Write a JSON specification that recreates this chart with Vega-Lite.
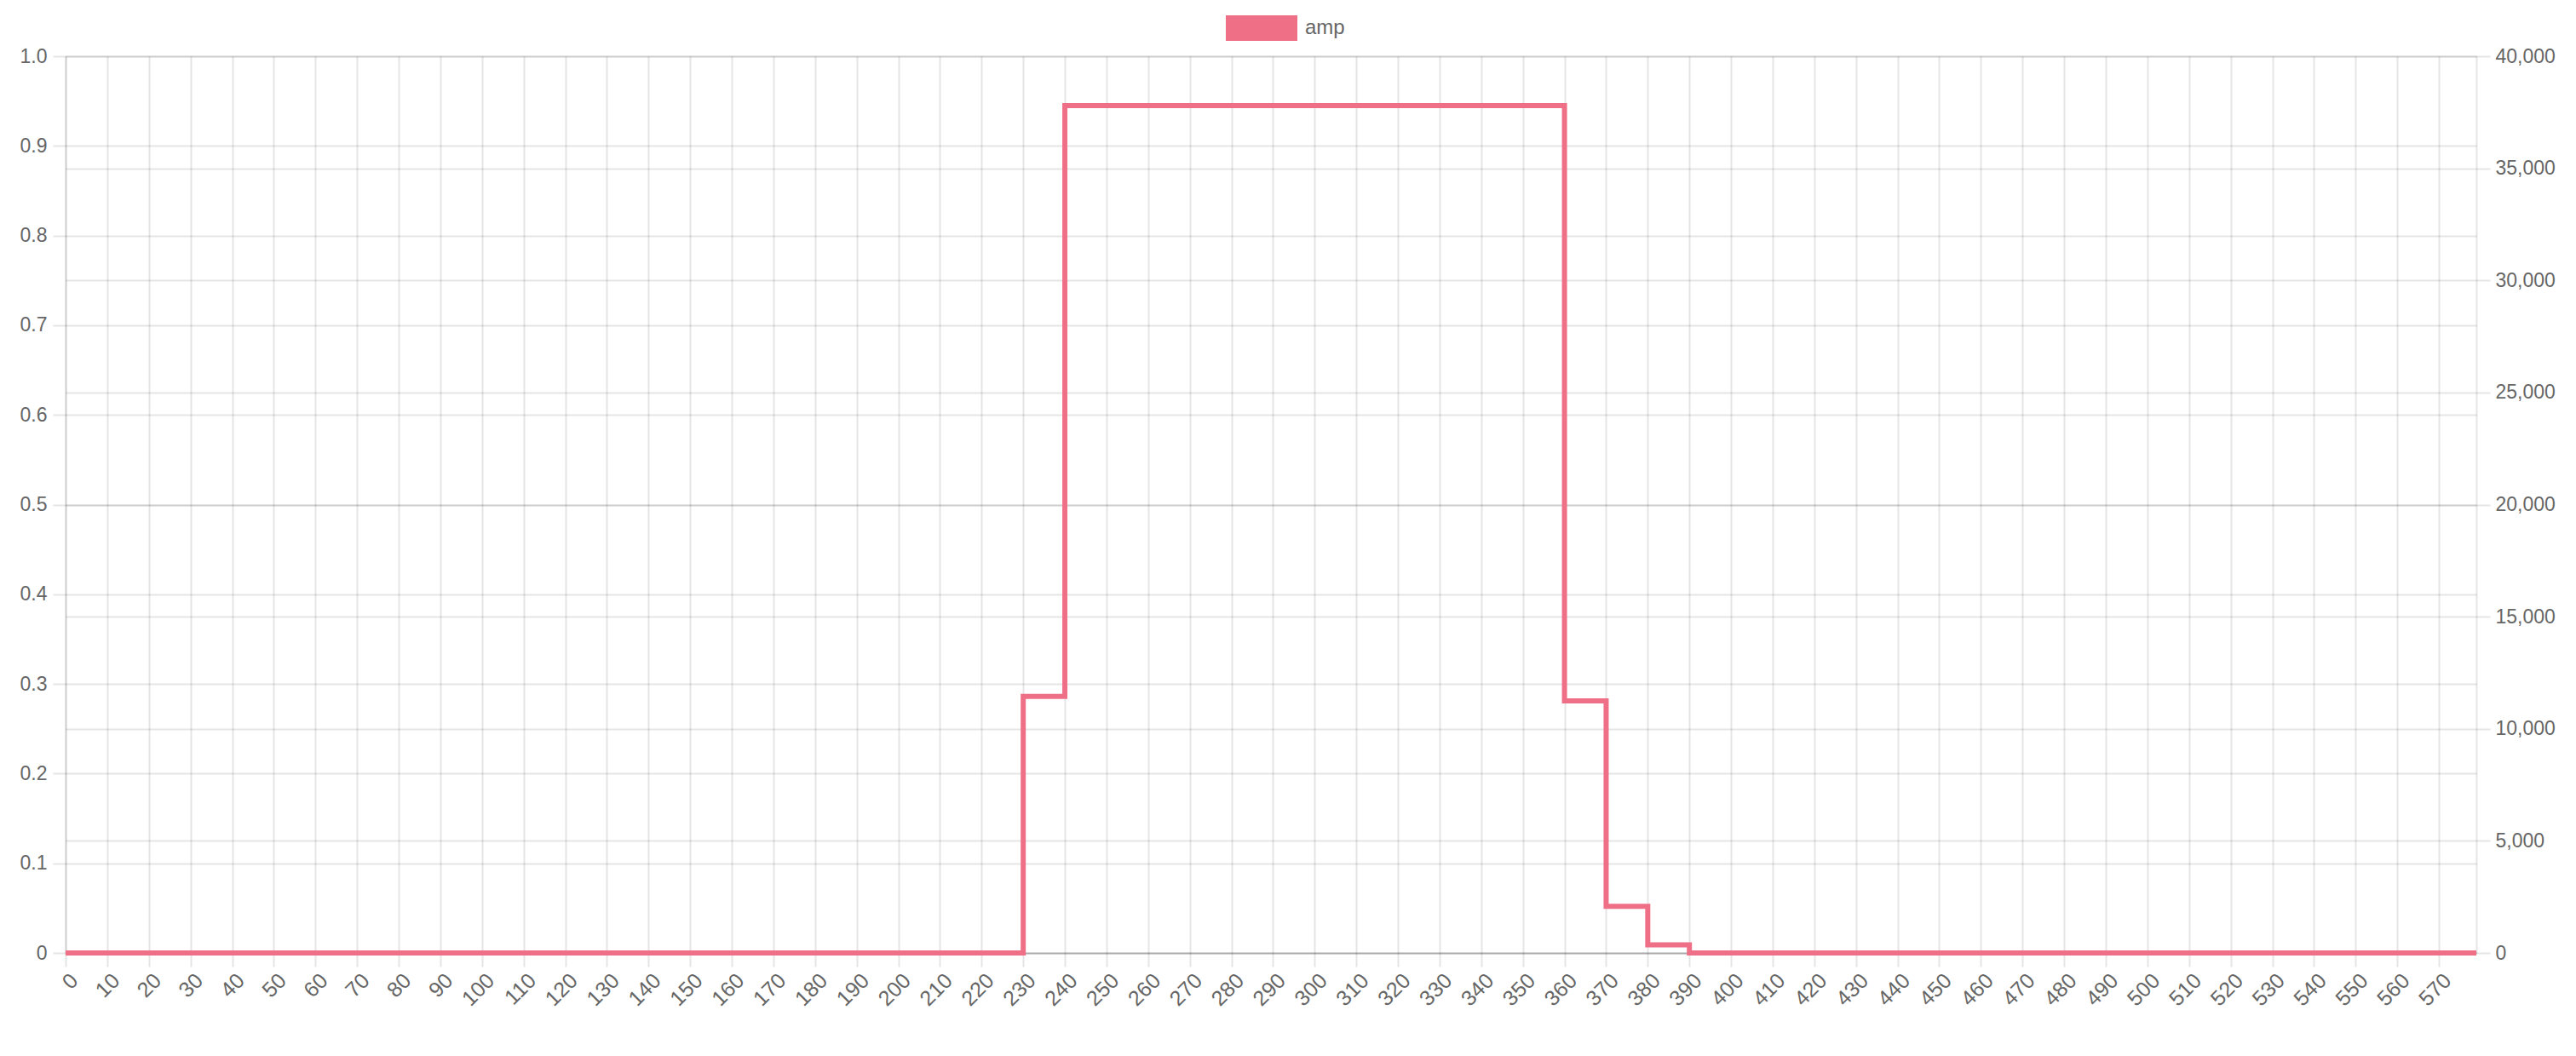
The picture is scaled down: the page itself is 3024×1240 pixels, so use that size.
{
"$schema": "https://vega.github.io/schema/vega-lite/v6.json",
"width": 2830, "height": 1053,
"autosize": {"type": "none"},
"padding": {"left": 77, "top": 66, "right": 117, "bottom": 121},
"background": "white",
"config": {"view": {"stroke": null}, "font": "Liberation Sans"},
"data": {"values": [
{"t":0,"amp":0},{"t":1,"amp":0},{"t":2,"amp":0},{"t":3,"amp":0},{"t":4,"amp":0},{"t":5,"amp":0},{"t":6,"amp":0},{"t":7,"amp":0},{"t":8,"amp":0},{"t":9,"amp":0},
{"t":10,"amp":0},{"t":11,"amp":0},{"t":12,"amp":0},{"t":13,"amp":0},{"t":14,"amp":0},{"t":15,"amp":0},{"t":16,"amp":0},{"t":17,"amp":0},{"t":18,"amp":0},{"t":19,"amp":0},
{"t":20,"amp":0},{"t":21,"amp":0},{"t":22,"amp":0},{"t":23,"amp":0},{"t":24,"amp":0},{"t":25,"amp":0},{"t":26,"amp":0},{"t":27,"amp":0},{"t":28,"amp":0},{"t":29,"amp":0},
{"t":30,"amp":0},{"t":31,"amp":0},{"t":32,"amp":0},{"t":33,"amp":0},{"t":34,"amp":0},{"t":35,"amp":0},{"t":36,"amp":0},{"t":37,"amp":0},{"t":38,"amp":0},{"t":39,"amp":0},
{"t":40,"amp":0},{"t":41,"amp":0},{"t":42,"amp":0},{"t":43,"amp":0},{"t":44,"amp":0},{"t":45,"amp":0},{"t":46,"amp":0},{"t":47,"amp":0},{"t":48,"amp":0},{"t":49,"amp":0},
{"t":50,"amp":0},{"t":51,"amp":0},{"t":52,"amp":0},{"t":53,"amp":0},{"t":54,"amp":0},{"t":55,"amp":0},{"t":56,"amp":0},{"t":57,"amp":0},{"t":58,"amp":0},{"t":59,"amp":0},
{"t":60,"amp":0},{"t":61,"amp":0},{"t":62,"amp":0},{"t":63,"amp":0},{"t":64,"amp":0},{"t":65,"amp":0},{"t":66,"amp":0},{"t":67,"amp":0},{"t":68,"amp":0},{"t":69,"amp":0},
{"t":70,"amp":0},{"t":71,"amp":0},{"t":72,"amp":0},{"t":73,"amp":0},{"t":74,"amp":0},{"t":75,"amp":0},{"t":76,"amp":0},{"t":77,"amp":0},{"t":78,"amp":0},{"t":79,"amp":0},
{"t":80,"amp":0},{"t":81,"amp":0},{"t":82,"amp":0},{"t":83,"amp":0},{"t":84,"amp":0},{"t":85,"amp":0},{"t":86,"amp":0},{"t":87,"amp":0},{"t":88,"amp":0},{"t":89,"amp":0},
{"t":90,"amp":0},{"t":91,"amp":0},{"t":92,"amp":0},{"t":93,"amp":0},{"t":94,"amp":0},{"t":95,"amp":0},{"t":96,"amp":0},{"t":97,"amp":0},{"t":98,"amp":0},{"t":99,"amp":0},
{"t":100,"amp":0},{"t":101,"amp":0},{"t":102,"amp":0},{"t":103,"amp":0},{"t":104,"amp":0},{"t":105,"amp":0},{"t":106,"amp":0},{"t":107,"amp":0},{"t":108,"amp":0},{"t":109,"amp":0},
{"t":110,"amp":0},{"t":111,"amp":0},{"t":112,"amp":0},{"t":113,"amp":0},{"t":114,"amp":0},{"t":115,"amp":0},{"t":116,"amp":0},{"t":117,"amp":0},{"t":118,"amp":0},{"t":119,"amp":0},
{"t":120,"amp":0},{"t":121,"amp":0},{"t":122,"amp":0},{"t":123,"amp":0},{"t":124,"amp":0},{"t":125,"amp":0},{"t":126,"amp":0},{"t":127,"amp":0},{"t":128,"amp":0},{"t":129,"amp":0},
{"t":130,"amp":0},{"t":131,"amp":0},{"t":132,"amp":0},{"t":133,"amp":0},{"t":134,"amp":0},{"t":135,"amp":0},{"t":136,"amp":0},{"t":137,"amp":0},{"t":138,"amp":0},{"t":139,"amp":0},
{"t":140,"amp":0},{"t":141,"amp":0},{"t":142,"amp":0},{"t":143,"amp":0},{"t":144,"amp":0},{"t":145,"amp":0},{"t":146,"amp":0},{"t":147,"amp":0},{"t":148,"amp":0},{"t":149,"amp":0},
{"t":150,"amp":0},{"t":151,"amp":0},{"t":152,"amp":0},{"t":153,"amp":0},{"t":154,"amp":0},{"t":155,"amp":0},{"t":156,"amp":0},{"t":157,"amp":0},{"t":158,"amp":0},{"t":159,"amp":0},
{"t":160,"amp":0},{"t":161,"amp":0},{"t":162,"amp":0},{"t":163,"amp":0},{"t":164,"amp":0},{"t":165,"amp":0},{"t":166,"amp":0},{"t":167,"amp":0},{"t":168,"amp":0},{"t":169,"amp":0},
{"t":170,"amp":0},{"t":171,"amp":0},{"t":172,"amp":0},{"t":173,"amp":0},{"t":174,"amp":0},{"t":175,"amp":0},{"t":176,"amp":0},{"t":177,"amp":0},{"t":178,"amp":0},{"t":179,"amp":0},
{"t":180,"amp":0},{"t":181,"amp":0},{"t":182,"amp":0},{"t":183,"amp":0},{"t":184,"amp":0},{"t":185,"amp":0},{"t":186,"amp":0},{"t":187,"amp":0},{"t":188,"amp":0},{"t":189,"amp":0},
{"t":190,"amp":0},{"t":191,"amp":0},{"t":192,"amp":0},{"t":193,"amp":0},{"t":194,"amp":0},{"t":195,"amp":0},{"t":196,"amp":0},{"t":197,"amp":0},{"t":198,"amp":0},{"t":199,"amp":0},
{"t":200,"amp":0},{"t":201,"amp":0},{"t":202,"amp":0},{"t":203,"amp":0},{"t":204,"amp":0},{"t":205,"amp":0},{"t":206,"amp":0},{"t":207,"amp":0},{"t":208,"amp":0},{"t":209,"amp":0},
{"t":210,"amp":0},{"t":211,"amp":0},{"t":212,"amp":0},{"t":213,"amp":0},{"t":214,"amp":0},{"t":215,"amp":0},{"t":216,"amp":0},{"t":217,"amp":0},{"t":218,"amp":0},{"t":219,"amp":0},
{"t":220,"amp":0},{"t":221,"amp":0},{"t":222,"amp":0},{"t":223,"amp":0},{"t":224,"amp":0},{"t":225,"amp":0},{"t":226,"amp":0},{"t":227,"amp":0},{"t":228,"amp":0},{"t":229,"amp":0},
{"t":230,"amp":0.286},{"t":231,"amp":0.286},{"t":232,"amp":0.286},{"t":233,"amp":0.286},{"t":234,"amp":0.286},{"t":235,"amp":0.286},{"t":236,"amp":0.286},{"t":237,"amp":0.286},{"t":238,"amp":0.286},{"t":239,"amp":0.286},
{"t":240,"amp":0.945},{"t":241,"amp":0.945},{"t":242,"amp":0.945},{"t":243,"amp":0.945},{"t":244,"amp":0.945},{"t":245,"amp":0.945},{"t":246,"amp":0.945},{"t":247,"amp":0.945},{"t":248,"amp":0.945},{"t":249,"amp":0.945},
{"t":250,"amp":0.945},{"t":251,"amp":0.945},{"t":252,"amp":0.945},{"t":253,"amp":0.945},{"t":254,"amp":0.945},{"t":255,"amp":0.945},{"t":256,"amp":0.945},{"t":257,"amp":0.945},{"t":258,"amp":0.945},{"t":259,"amp":0.945},
{"t":260,"amp":0.945},{"t":261,"amp":0.945},{"t":262,"amp":0.945},{"t":263,"amp":0.945},{"t":264,"amp":0.945},{"t":265,"amp":0.945},{"t":266,"amp":0.945},{"t":267,"amp":0.945},{"t":268,"amp":0.945},{"t":269,"amp":0.945},
{"t":270,"amp":0.945},{"t":271,"amp":0.945},{"t":272,"amp":0.945},{"t":273,"amp":0.945},{"t":274,"amp":0.945},{"t":275,"amp":0.945},{"t":276,"amp":0.945},{"t":277,"amp":0.945},{"t":278,"amp":0.945},{"t":279,"amp":0.945},
{"t":280,"amp":0.945},{"t":281,"amp":0.945},{"t":282,"amp":0.945},{"t":283,"amp":0.945},{"t":284,"amp":0.945},{"t":285,"amp":0.945},{"t":286,"amp":0.945},{"t":287,"amp":0.945},{"t":288,"amp":0.945},{"t":289,"amp":0.945},
{"t":290,"amp":0.945},{"t":291,"amp":0.945},{"t":292,"amp":0.945},{"t":293,"amp":0.945},{"t":294,"amp":0.945},{"t":295,"amp":0.945},{"t":296,"amp":0.945},{"t":297,"amp":0.945},{"t":298,"amp":0.945},{"t":299,"amp":0.945},
{"t":300,"amp":0.945},{"t":301,"amp":0.945},{"t":302,"amp":0.945},{"t":303,"amp":0.945},{"t":304,"amp":0.945},{"t":305,"amp":0.945},{"t":306,"amp":0.945},{"t":307,"amp":0.945},{"t":308,"amp":0.945},{"t":309,"amp":0.945},
{"t":310,"amp":0.945},{"t":311,"amp":0.945},{"t":312,"amp":0.945},{"t":313,"amp":0.945},{"t":314,"amp":0.945},{"t":315,"amp":0.945},{"t":316,"amp":0.945},{"t":317,"amp":0.945},{"t":318,"amp":0.945},{"t":319,"amp":0.945},
{"t":320,"amp":0.945},{"t":321,"amp":0.945},{"t":322,"amp":0.945},{"t":323,"amp":0.945},{"t":324,"amp":0.945},{"t":325,"amp":0.945},{"t":326,"amp":0.945},{"t":327,"amp":0.945},{"t":328,"amp":0.945},{"t":329,"amp":0.945},
{"t":330,"amp":0.945},{"t":331,"amp":0.945},{"t":332,"amp":0.945},{"t":333,"amp":0.945},{"t":334,"amp":0.945},{"t":335,"amp":0.945},{"t":336,"amp":0.945},{"t":337,"amp":0.945},{"t":338,"amp":0.945},{"t":339,"amp":0.945},
{"t":340,"amp":0.945},{"t":341,"amp":0.945},{"t":342,"amp":0.945},{"t":343,"amp":0.945},{"t":344,"amp":0.945},{"t":345,"amp":0.945},{"t":346,"amp":0.945},{"t":347,"amp":0.945},{"t":348,"amp":0.945},{"t":349,"amp":0.945},
{"t":350,"amp":0.945},{"t":351,"amp":0.945},{"t":352,"amp":0.945},{"t":353,"amp":0.945},{"t":354,"amp":0.945},{"t":355,"amp":0.945},{"t":356,"amp":0.945},{"t":357,"amp":0.945},{"t":358,"amp":0.945},{"t":359,"amp":0.945},
{"t":360,"amp":0.281},{"t":361,"amp":0.281},{"t":362,"amp":0.281},{"t":363,"amp":0.281},{"t":364,"amp":0.281},{"t":365,"amp":0.281},{"t":366,"amp":0.281},{"t":367,"amp":0.281},{"t":368,"amp":0.281},{"t":369,"amp":0.281},
{"t":370,"amp":0.052},{"t":371,"amp":0.052},{"t":372,"amp":0.052},{"t":373,"amp":0.052},{"t":374,"amp":0.052},{"t":375,"amp":0.052},{"t":376,"amp":0.052},{"t":377,"amp":0.052},{"t":378,"amp":0.052},{"t":379,"amp":0.052},
{"t":380,"amp":0.009},{"t":381,"amp":0.009},{"t":382,"amp":0.009},{"t":383,"amp":0.009},{"t":384,"amp":0.009},{"t":385,"amp":0.009},{"t":386,"amp":0.009},{"t":387,"amp":0.009},{"t":388,"amp":0.009},{"t":389,"amp":0.009},
{"t":390,"amp":0},{"t":391,"amp":0},{"t":392,"amp":0},{"t":393,"amp":0},{"t":394,"amp":0},{"t":395,"amp":0},{"t":396,"amp":0},{"t":397,"amp":0},{"t":398,"amp":0},{"t":399,"amp":0},
{"t":400,"amp":0},{"t":401,"amp":0},{"t":402,"amp":0},{"t":403,"amp":0},{"t":404,"amp":0},{"t":405,"amp":0},{"t":406,"amp":0},{"t":407,"amp":0},{"t":408,"amp":0},{"t":409,"amp":0},
{"t":410,"amp":0},{"t":411,"amp":0},{"t":412,"amp":0},{"t":413,"amp":0},{"t":414,"amp":0},{"t":415,"amp":0},{"t":416,"amp":0},{"t":417,"amp":0},{"t":418,"amp":0},{"t":419,"amp":0},
{"t":420,"amp":0},{"t":421,"amp":0},{"t":422,"amp":0},{"t":423,"amp":0},{"t":424,"amp":0},{"t":425,"amp":0},{"t":426,"amp":0},{"t":427,"amp":0},{"t":428,"amp":0},{"t":429,"amp":0},
{"t":430,"amp":0},{"t":431,"amp":0},{"t":432,"amp":0},{"t":433,"amp":0},{"t":434,"amp":0},{"t":435,"amp":0},{"t":436,"amp":0},{"t":437,"amp":0},{"t":438,"amp":0},{"t":439,"amp":0},
{"t":440,"amp":0},{"t":441,"amp":0},{"t":442,"amp":0},{"t":443,"amp":0},{"t":444,"amp":0},{"t":445,"amp":0},{"t":446,"amp":0},{"t":447,"amp":0},{"t":448,"amp":0},{"t":449,"amp":0},
{"t":450,"amp":0},{"t":451,"amp":0},{"t":452,"amp":0},{"t":453,"amp":0},{"t":454,"amp":0},{"t":455,"amp":0},{"t":456,"amp":0},{"t":457,"amp":0},{"t":458,"amp":0},{"t":459,"amp":0},
{"t":460,"amp":0},{"t":461,"amp":0},{"t":462,"amp":0},{"t":463,"amp":0},{"t":464,"amp":0},{"t":465,"amp":0},{"t":466,"amp":0},{"t":467,"amp":0},{"t":468,"amp":0},{"t":469,"amp":0},
{"t":470,"amp":0},{"t":471,"amp":0},{"t":472,"amp":0},{"t":473,"amp":0},{"t":474,"amp":0},{"t":475,"amp":0},{"t":476,"amp":0},{"t":477,"amp":0},{"t":478,"amp":0},{"t":479,"amp":0},
{"t":480,"amp":0},{"t":481,"amp":0},{"t":482,"amp":0},{"t":483,"amp":0},{"t":484,"amp":0},{"t":485,"amp":0},{"t":486,"amp":0},{"t":487,"amp":0},{"t":488,"amp":0},{"t":489,"amp":0},
{"t":490,"amp":0},{"t":491,"amp":0},{"t":492,"amp":0},{"t":493,"amp":0},{"t":494,"amp":0},{"t":495,"amp":0},{"t":496,"amp":0},{"t":497,"amp":0},{"t":498,"amp":0},{"t":499,"amp":0},
{"t":500,"amp":0},{"t":501,"amp":0},{"t":502,"amp":0},{"t":503,"amp":0},{"t":504,"amp":0},{"t":505,"amp":0},{"t":506,"amp":0},{"t":507,"amp":0},{"t":508,"amp":0},{"t":509,"amp":0},
{"t":510,"amp":0},{"t":511,"amp":0},{"t":512,"amp":0},{"t":513,"amp":0},{"t":514,"amp":0},{"t":515,"amp":0},{"t":516,"amp":0},{"t":517,"amp":0},{"t":518,"amp":0},{"t":519,"amp":0},
{"t":520,"amp":0},{"t":521,"amp":0},{"t":522,"amp":0},{"t":523,"amp":0},{"t":524,"amp":0},{"t":525,"amp":0},{"t":526,"amp":0},{"t":527,"amp":0},{"t":528,"amp":0},{"t":529,"amp":0},
{"t":530,"amp":0},{"t":531,"amp":0},{"t":532,"amp":0},{"t":533,"amp":0},{"t":534,"amp":0},{"t":535,"amp":0},{"t":536,"amp":0},{"t":537,"amp":0},{"t":538,"amp":0},{"t":539,"amp":0},
{"t":540,"amp":0},{"t":541,"amp":0},{"t":542,"amp":0},{"t":543,"amp":0},{"t":544,"amp":0},{"t":545,"amp":0},{"t":546,"amp":0},{"t":547,"amp":0},{"t":548,"amp":0},{"t":549,"amp":0},
{"t":550,"amp":0},{"t":551,"amp":0},{"t":552,"amp":0},{"t":553,"amp":0},{"t":554,"amp":0},{"t":555,"amp":0},{"t":556,"amp":0},{"t":557,"amp":0},{"t":558,"amp":0},{"t":559,"amp":0},
{"t":560,"amp":0},{"t":561,"amp":0},{"t":562,"amp":0},{"t":563,"amp":0},{"t":564,"amp":0},{"t":565,"amp":0},{"t":566,"amp":0},{"t":567,"amp":0},{"t":568,"amp":0},{"t":569,"amp":0},
{"t":570,"amp":0},{"t":571,"amp":0},{"t":572,"amp":0},{"t":573,"amp":0},{"t":574,"amp":0},{"t":575,"amp":0},{"t":576,"amp":0},{"t":577,"amp":0},{"t":578,"amp":0},{"t":579,"amp":0}
]},
"layer": [
{
"mark": {"type": "line", "interpolate": "step-after", "strokeWidth": 6, "strokeJoin": "miter", "clip": false},
"encoding": {
"x": {"field": "t", "type": "quantitative", "scale": {"domain": [0, 579], "nice": false, "zero": false},
 "axis": {"title": null, "values": [0,10,20,30,40,50,60,70,80,90,100,110,120,130,140,150,160,170,180,190,200,210,220,230,240,250,260,270,280,290,300,310,320,330,340,350,360,370,380,390,400,410,420,430,440,450,460,470,480,490,500,510,520,530,540,550,560,570],
  "grid": true, "gridColor": "rgba(0,0,0,0.1)", "gridWidth": 2, "domain": false,
  "ticks": true, "tickColor": "rgba(0,0,0,0.1)", "tickWidth": 2, "tickSize": 16,
  "labelAngle": -45, "labelAlign": "right", "labelBaseline": "middle", "labelPadding": 12, "labelOffset": 10,
  "labelFont": "Liberation Sans", "labelFontSize": 25, "labelColor": "#666", "labelOverlap": false, "labelFlush": false, "labelBound": false}},
"y": {"field": "amp", "type": "quantitative", "scale": {"domain": [0, 1], "nice": false},
 "axis": {"title": null, "orient": "left", "values": [0,0.1,0.2,0.3,0.4,0.5,0.6,0.7,0.8,0.9,1],
  "grid": true, "gridColor": {"condition": {"test": "datum.value === 0", "value": "rgba(0,0,0,0.25)"}, "value": "rgba(0,0,0,0.1)"}, "gridWidth": 2,
  "domain": true, "domainColor": "rgba(0,0,0,0.1)", "domainWidth": 2,
  "ticks": true, "tickColor": "rgba(0,0,0,0.1)", "tickWidth": 2, "tickSize": 15,
  "labelPadding": 7, "labelFont": "Liberation Sans", "labelFontSize": 23, "labelColor": "#666",
  "labelExpr": "datum.value === 0 ? '0' : format(datum.value, '.1f')", "labelFlush": false, "labelOverlap": false}},
"color": {"datum": "amp", "type": "nominal", "scale": {"range": ["#ef6f87"]},
 "legend": {"orient": "none", "legendX": 1362, "legendY": -75, "title": null,
  "symbolType": "M-1,-0.36H1V0.36H-1Z", "symbolSize": 7056, "symbolStrokeWidth": 0,
  "labelFont": "Liberation Sans", "labelFontSize": 24, "labelColor": "#666", "labelOffset": 9,
  "encode": {"symbols": {"update": {"fill": {"value": "#ef6f87"}, "stroke": {"value": "transparent"}, "opacity": {"value": 1}}}}}}
}
},
{
"mark": {"type": "rule", "opacity": 0},
"encoding": {
"y": {"datum": 0, "type": "quantitative", "scale": {"domain": [0, 40000], "nice": false},
 "axis": {"title": null, "orient": "right", "values": [0,5000,10000,15000,20000,25000,30000,35000,40000],
  "labelExpr": "format(datum.value, ',')",
  "grid": true, "gridColor": "rgba(0,0,0,0.1)", "gridWidth": 2,
  "domain": true, "domainColor": "rgba(0,0,0,0.1)", "domainWidth": 2,
  "ticks": true, "tickColor": "rgba(0,0,0,0.1)", "tickWidth": 2, "tickSize": 16,
  "labelPadding": 6, "labelFont": "Liberation Sans", "labelFontSize": 23, "labelColor": "#666", "labelFlush": false, "labelOverlap": false}}
}
}
],
"resolve": {"scale": {"y": "independent"}, "axis": {"y": "independent"}}
}
